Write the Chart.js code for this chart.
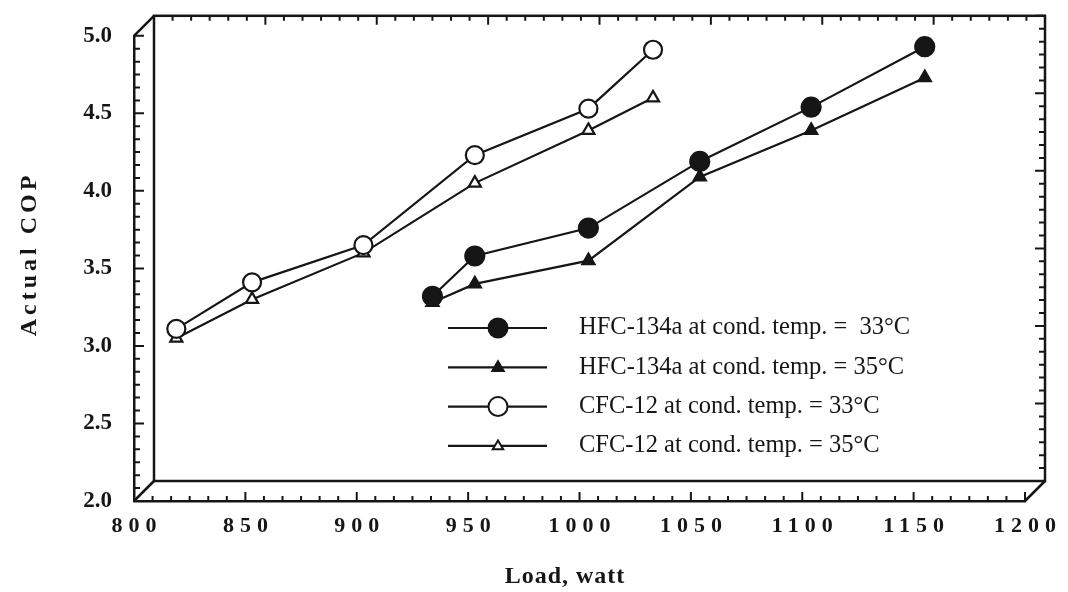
<!DOCTYPE html>
<html>
<head>
<meta charset="utf-8">
<script src="https://cdn.jsdelivr.net/npm/chart.js@4.4.0/dist/chart.umd.min.js"></script>
<style>
  html, body { margin: 0; padding: 0; background: #fff; }
</style>
</head>
<body>
<canvas id="copChart" width="1068" height="592"></canvas>
<script>
// data
const cfcLoads = [819, 853, 903, 953, 1004, 1033];
const cfc33 = [3.11, 3.41, 3.65, 4.23, 4.53, 4.91];
const cfc35 = [3.05, 3.30, 3.60, 4.05, 4.39, 4.60];

const hfcLoads = [934, 953, 1004, 1054, 1104, 1155];
const hfc33 = [3.32, 3.58, 3.76, 4.19, 4.54, 4.93];
const hfc35 = [3.28, 3.40, 3.55, 4.09, 4.39, 4.73];

const seriesLabels = [
  'HFC-134a at cond. temp. =  33°C',
  'HFC-134a at cond. temp. = 35°C',
  'CFC-12 at cond. temp. = 33°C',
  'CFC-12 at cond. temp. = 35°C',
];

const xTitle = 'Load, watt';
const yTitle = 'Actual COP';

const ink = '#161616';
const serif = '"Liberation Serif", "DejaVu Serif", serif';
const depth = { dx: 20, dy: -20 }; // offset of the back wall

const toPoints = (xs, ys) => xs.map((x, i) => ({ x: x, y: ys[i] }));

// back wall, diagonals and tick marks of the fake 3d box
const boxPlugin = {
  id: 'box3d',
  beforeDatasetsDraw(chart) {
    const ctx = chart.ctx;
    const { left, right, top, bottom } = chart.chartArea;
    const xs = chart.scales.x;
    const ys = chart.scales.y;
    const bl = left + depth.dx, br = right + depth.dx;
    const bt = top + depth.dy, bb = bottom + depth.dy;

    ctx.save();
    ctx.strokeStyle = ink;
    ctx.lineWidth = 2.5;
    ctx.strokeRect(bl, bt, br - bl, bb - bt);

    ctx.beginPath();
    ctx.moveTo(left, bottom); ctx.lineTo(bl, bb);
    ctx.moveTo(left, top); ctx.lineTo(bl, bt);
    ctx.moveTo(right, bottom); ctx.lineTo(br, bb);
    ctx.stroke();

    ctx.lineWidth = 2;
    ctx.beginPath();
    // x ticks: 6 intervals per 50 W
    for (let i = 0; i <= 48; i++) {
      const px = xs.getPixelForValue(800 + i * 50 / 6);
      const len = i % 6 === 0 ? 9 : 5;
      ctx.moveTo(px, bottom); ctx.lineTo(px, bottom - len);
      ctx.moveTo(px + depth.dx, bt); ctx.lineTo(px + depth.dx, bt + len);
    }
    // y ticks: 6 intervals per 0.5
    for (let i = 0; i <= 36; i++) {
      const py = ys.getPixelForValue(2 + i / 12);
      const len = i % 6 === 0 ? 10 : 6;
      ctx.moveTo(left, py); ctx.lineTo(left + len, py);
      ctx.moveTo(br, py + depth.dy); ctx.lineTo(br - len, py + depth.dy);
    }
    ctx.stroke();
    ctx.restore();
  },
  afterDraw(chart) {
    const ctx = chart.ctx;
    const xs = chart.scales.x;

    ctx.save();
    ctx.fillStyle = ink;
    ctx.textBaseline = 'middle';
    ctx.textAlign = 'center';

    // spaced out x tick labels
    ctx.font = 'bold 22px ' + serif;
    ctx.letterSpacing = '6px';
    xs.ticks.forEach(t => {
      ctx.fillText(String(t.value), xs.getPixelForValue(t.value) + 3, 526);
    });

    // axis titles
    ctx.font = 'bold 24px ' + serif;
    ctx.letterSpacing = '1px';
    ctx.fillText(xTitle, 565, 577);
    ctx.save();
    ctx.translate(30, 256);
    ctx.rotate(-Math.PI / 2);
    ctx.letterSpacing = '4px';
    ctx.fillText(yTitle, 2, 0);
    ctx.restore();

    // legend inside the plot
    ctx.letterSpacing = '0px';
    ctx.textAlign = 'left';
    ctx.font = '24.5px ' + serif;
    chart.data.datasets.forEach((ds, i) => {
      const y = 328 + i * 39.3;
      ctx.strokeStyle = ink;
      ctx.lineWidth = 2.2;
      ctx.beginPath();
      ctx.moveTo(448, y); ctx.lineTo(547, y);
      ctx.stroke();
      drawMarker(ctx, ds.pointStyle, 498, y, ds.legendRadius, ds.pointBackgroundColor);
      ctx.fillStyle = ink;
      ctx.fillText(ds.label, 579, y);
    });
    ctx.restore();
  }
};

function drawMarker(ctx, style, x, y, r, fill) {
  ctx.beginPath();
  if (style === 'circle') {
    ctx.arc(x, y, r, 0, Math.PI * 2);
  } else {
    ctx.moveTo(x, y - r);
    ctx.lineTo(x + r * 0.95, y + r * 0.6);
    ctx.lineTo(x - r * 0.95, y + r * 0.6);
    ctx.closePath();
  }
  ctx.fillStyle = fill;
  ctx.fill();
  ctx.strokeStyle = ink;
  ctx.lineWidth = 2;
  ctx.stroke();
}

const lineStyle = {
  borderColor: ink,
  borderWidth: 2.2,
  pointBorderColor: ink,
  pointBorderWidth: 2.2,
  fill: false,
  tension: 0,
};

const ctx = document.getElementById('copChart').getContext('2d');
new Chart(ctx, {
  type: 'line',
  data: {
    datasets: [
      { ...lineStyle, label: seriesLabels[0], data: toPoints(hfcLoads, hfc33),
        pointStyle: 'circle', pointRadius: 9.5, pointBackgroundColor: ink, legendRadius: 9.5 },
      { ...lineStyle, label: seriesLabels[1], data: toPoints(hfcLoads, hfc35),
        pointStyle: 'triangle', pointRadius: 7, pointBackgroundColor: ink, legendRadius: 6 },
      { ...lineStyle, label: seriesLabels[2], data: toPoints(cfcLoads, cfc33),
        pointStyle: 'circle', pointRadius: 9, pointBackgroundColor: '#fff', legendRadius: 9.5 },
      { ...lineStyle, label: seriesLabels[3], data: toPoints(cfcLoads, cfc35),
        pointStyle: 'triangle', pointRadius: 7, pointBackgroundColor: '#fff', legendRadius: 5.5 },
    ],
  },
  options: {
    responsive: false,
    animation: false,
    devicePixelRatio: 1,
    layout: { padding: { top: 30, right: 43, left: 0, bottom: 0 } },
    plugins: {
      legend: { display: false },
      tooltip: { enabled: false },
    },
    scales: {
      x: {
        type: 'linear',
        min: 800,
        max: 1200,
        afterFit: (s) => { s.height = 91; },
        ticks: { stepSize: 50, display: false },
        grid: { display: false },
        border: { display: true, color: ink, width: 2.5 },
      },
      y: {
        min: 2,
        max: 5,
        afterFit: (s) => { s.width = 134; },
        ticks: {
          stepSize: 0.5,
          padding: 22,
          color: ink,
          font: { family: serif, size: 23, weight: 'bold' },
          callback: (v) => v.toFixed(1),
        },
        grid: { display: false, drawTicks: false },
        border: { display: true, color: ink, width: 2.5 },
      },
    },
  },
  plugins: [boxPlugin],
});
</script>
</body>
</html>
